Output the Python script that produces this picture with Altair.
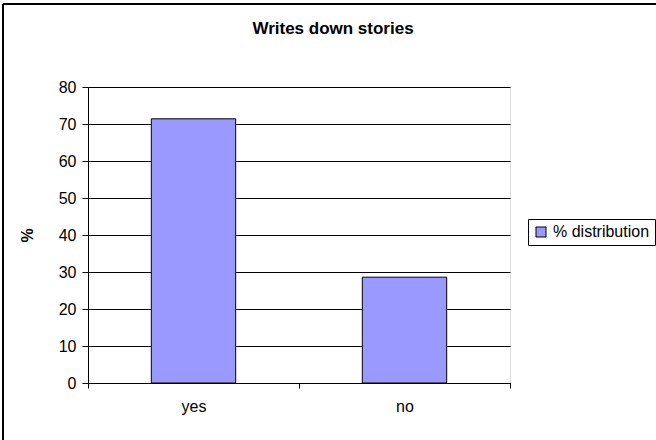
import altair as alt
import pandas as pd

categories = ["yes", "no"]
values = [71.4, 28.6]
series_name = "% distribution"
title_text = "Writes down stories"
y_ticks = [0, 10, 20, 30, 40, 50, 60, 70, 80]

df = pd.DataFrame({"answer": categories, "pct": values, "series": [series_name] * len(categories)})

FONT = "Liberation Sans"
PLOT_LEFT, PLOT_TOP = 88, 87
W, H = 422, 296

bars = alt.Chart(df).mark_bar(
    stroke="black", strokeWidth=1, width=alt.RelativeBandSize(0.4)
).encode(
    x=alt.X("answer:N", sort=categories,
            scale=alt.Scale(paddingInner=0, paddingOuter=0),
            axis=alt.Axis(title=None, labelAngle=0, tickBand="extent", tickSize=5,
                          tickColor="black", domainColor="black", labelPadding=10,
                          labelFontSize=16, labelFont=FONT, labelColor="black", grid=False)),
    y=alt.Y("pct:Q", scale=alt.Scale(domain=[0, 80], nice=False),
            axis=alt.Axis(title="%", values=y_ticks, tickSize=6, tickColor="black",
                          domainColor="black", labelPadding=6, labelFontSize=16,
                          labelFont=FONT, labelColor="black", grid=True, gridColor="black",
                          gridWidth=1, titleFont=FONT, titleFontSize=16, titleFontWeight="bold",
                          titleColor="black", titleX=-53, titleY=148, titleAngle=270)),
    color=alt.Color("series:N", scale=alt.Scale(range=["#9999FF"]),
                    legend=alt.Legend(title=None, orient="none", legendX=440, legendY=132,
                                      strokeColor="black", fillColor="white", padding=5,
                                      symbolType="square", symbolSize=100,
                                      symbolStrokeColor="black", symbolStrokeWidth=1,
                                      labelFontSize=16, labelFont=FONT, labelColor="black")),
)

one_row = pd.DataFrame({"label": [title_text]})
title_mark = alt.Chart(one_row).mark_text(
    font=FONT, fontSize=17, fontWeight="bold", color="black", align="center", baseline="middle"
).encode(text="label:N", x=alt.value(333 - PLOT_LEFT), y=alt.value(29 - PLOT_TOP))

top_border = alt.Chart(one_row).mark_rule(color="black", strokeWidth=2).encode(
    x=alt.value(3 - PLOT_LEFT), x2=alt.value(656 - PLOT_LEFT), y=alt.value(4 - PLOT_TOP)
)
left_border = alt.Chart(one_row).mark_rule(color="black", strokeWidth=2).encode(
    x=alt.value(3 - PLOT_LEFT), y=alt.value(4 - PLOT_TOP), y2=alt.value(440 - PLOT_TOP)
)

chart = alt.layer(bars, title_mark, top_border, left_border).properties(
    width=W, height=H,
    autosize=alt.AutoSizeParams(type="none"),
    padding={"left": PLOT_LEFT, "top": PLOT_TOP, "right": 656 - PLOT_LEFT - W, "bottom": 440 - PLOT_TOP - H},
).configure_view(fill="#C0C0C0", stroke="#808080", strokeWidth=1).configure(background="white")

chart.save("out.html", embed_options={"renderer": "svg", "actions": False})
